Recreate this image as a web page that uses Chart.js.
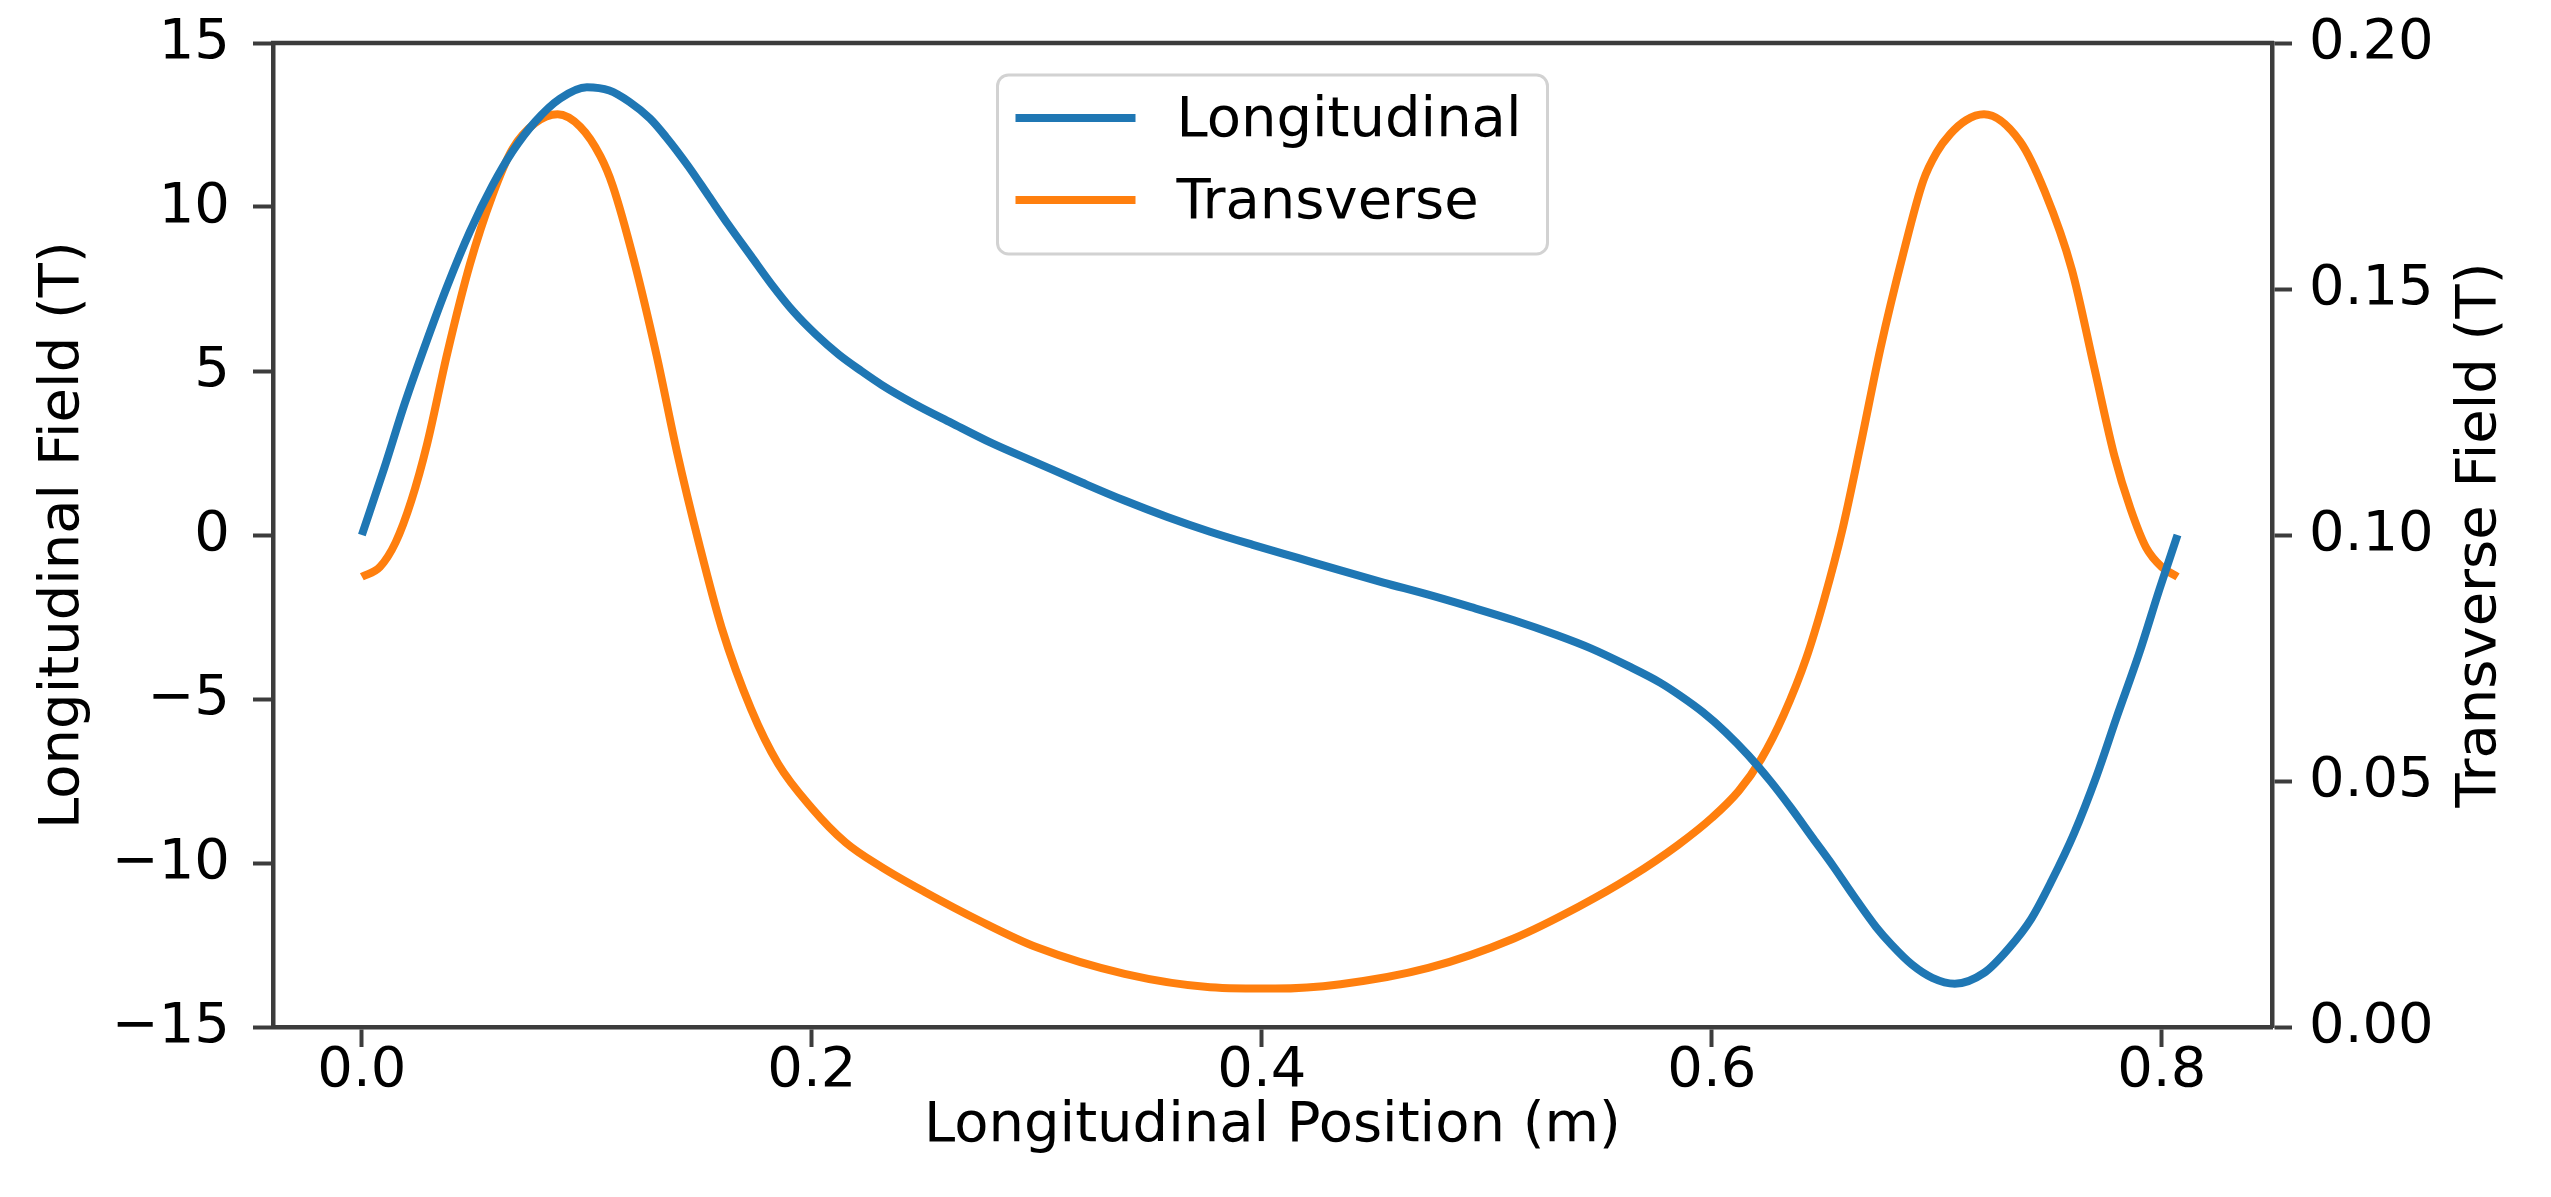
<!DOCTYPE html>
<html>
<head>
<meta charset="utf-8">
<script src="https://cdn.jsdelivr.net/npm/chart.js@4.4.1/dist/chart.umd.min.js"></script>
<style>
  html, body { margin: 0; padding: 0; background: #fff; overflow: hidden; }
  canvas { display: block; }
</style>
</head>
<body>
<canvas id="fieldChart" width="2551" height="1197"></canvas>
<script>
// values
const longPosition = [0.000, 0.010, 0.019, 0.029, 0.038, 0.048, 0.058, 0.067, 0.077, 0.088,
  0.100, 0.110, 0.119, 0.128, 0.135, 0.145, 0.154, 0.163, 0.173, 0.182,
  0.192, 0.202, 0.212, 0.222, 0.231, 0.245, 0.262, 0.280, 0.300, 0.320,
  0.339, 0.358, 0.377, 0.396, 0.416, 0.435, 0.454, 0.474, 0.493, 0.512,
  0.531, 0.546, 0.563, 0.577, 0.586, 0.596, 0.606, 0.616, 0.626, 0.635,
  0.645, 0.654, 0.663, 0.673, 0.680, 0.689, 0.698, 0.708, 0.721, 0.732,
  0.742, 0.751, 0.761, 0.771, 0.780, 0.790, 0.799, 0.807];
const longField = [0.0, 2.05, 4.0, 5.95, 7.6, 9.25, 10.65, 11.7, 12.6, 13.3,
  13.65, 13.55, 13.2, 12.7, 12.15, 11.25, 10.35, 9.45, 8.5, 7.65,
  6.8, 6.1, 5.5, 5.0, 4.58, 4.02, 3.42, 2.8, 2.2, 1.6,
  1.05, 0.55, 0.1, -0.3, -0.7, -1.08, -1.45, -1.82, -2.2, -2.6,
  -3.05, -3.45, -4.0, -4.5, -4.9, -5.4, -6.0, -6.7, -7.5, -8.3,
  -9.25, -10.1, -11.0, -11.95, -12.5, -13.1, -13.5, -13.68, -13.35, -12.6,
  -11.7, -10.55, -9.1, -7.35, -5.55, -3.6, -1.65, 0.0];

const transPosition = [0.000, 0.008, 0.015, 0.022, 0.029, 0.038, 0.048, 0.058, 0.067, 0.077,
  0.087, 0.097, 0.106, 0.1115, 0.121, 0.131, 0.140, 0.150, 0.160, 0.173,
  0.185, 0.200, 0.215, 0.231, 0.250, 0.275, 0.300, 0.339, 0.377, 0.406,
  0.435, 0.474, 0.512, 0.541, 0.564, 0.585, 0.600, 0.612, 0.622, 0.632,
  0.642, 0.650, 0.658, 0.666, 0.675, 0.685, 0.694, 0.700, 0.706, 0.713,
  0.721, 0.737, 0.748, 0.760, 0.770, 0.779, 0.786, 0.793, 0.800, 0.807];
const transField = [0.0915, 0.0935, 0.0985, 0.1070, 0.1185, 0.1370, 0.1550, 0.1690, 0.1785, 0.1837,
  0.1855, 0.1830, 0.1770, 0.1710, 0.1557, 0.1365, 0.1170, 0.0980, 0.0810, 0.0646,
  0.0535, 0.0445, 0.0375, 0.0325, 0.0275, 0.0215, 0.0162, 0.0108, 0.0081, 0.0078,
  0.0087, 0.0120, 0.0180, 0.0245, 0.0305, 0.0370, 0.0425, 0.0480, 0.0545, 0.0635,
  0.0750, 0.0870, 0.1010, 0.1180, 0.1380, 0.1570, 0.1720, 0.1778, 0.1815, 0.1843,
  0.1855, 0.1800, 0.1698, 0.1540, 0.1340, 0.1160, 0.1055, 0.0975, 0.0935, 0.0915];

const xTickValues = [0.0, 0.2, 0.4, 0.6, 0.8];
const leftTickValues = [-15, -10, -5, 0, 5, 10, 15];
const rightTickValues = [0.00, 0.05, 0.10, 0.15, 0.20];

const seriesLabels = ["Longitudinal", "Transverse"];
const seriesColors = ["#1f77b4", "#ff7f0e"];

const FONT = "'DejaVu Sans', 'Liberation Sans', sans-serif";
const AXIS_COLOR = "#3c3c3c";

Chart.defaults.font.family = FONT;
Chart.defaults.font.size = 56;
Chart.defaults.color = "#000";

const toPoints = (xs, ys) => xs.map((x, i) => ({ x: x, y: ys[i] }));

const axisGrid = {
  display: true,
  drawOnChartArea: false,
  drawTicks: true,
  tickLength: 20,
  tickWidth: 4,
  tickColor: AXIS_COLOR,
  color: AXIS_COLOR,
};
const axisBorder = { display: true, color: AXIS_COLOR, width: 4.5 };

// fixed box sizes so the plot area lands where the original one is
const fixBox = (size) => (scale) => {
  if (scale.isHorizontal()) scale.height = size; else scale.width = size;
  scale.paddingTop = 0;
  scale.paddingBottom = 0;
  scale.paddingLeft = 0;
  scale.paddingRight = 0;
};

// top spine, legend box and the right axis title (matplotlib reads it bottom-up)
const extrasPlugin = {
  id: "extras",
  afterDatasetsDraw(chart) {
    const { ctx, chartArea } = chart;
    ctx.save();
    ctx.strokeStyle = AXIS_COLOR;
    ctx.lineWidth = 4.5;
    ctx.beginPath();
    ctx.moveTo(chartArea.left - 2, chartArea.top);
    ctx.lineTo(chartArea.right + 2, chartArea.top);
    ctx.stroke();

    // legend
    ctx.font = "56px " + FONT;
    const labels = chart.data.datasets.map(d => d.label);
    const textW = Math.max(...labels.map(l => ctx.measureText(l).width));
    const w = 18 + 120 + 41 + textW + 26;
    const h = 179;
    const bx = (chartArea.left + chartArea.right) / 2 - w / 2;
    const by = chartArea.top + 32;
    ctx.beginPath();
    ctx.roundRect(bx, by, w, h, 11);
    ctx.fillStyle = "rgba(255,255,255,0.85)";
    ctx.fill();
    ctx.strokeStyle = "#d2d2d2";
    ctx.lineWidth = 3;
    ctx.stroke();
    chart.data.datasets.forEach((ds, i) => {
      const ly = by + 43 + i * 82;
      ctx.strokeStyle = ds.borderColor;
      ctx.lineWidth = 8;
      ctx.beginPath();
      ctx.moveTo(bx + 18, ly);
      ctx.lineTo(bx + 138, ly);
      ctx.stroke();
      ctx.fillStyle = "#000";
      ctx.textAlign = "left";
      ctx.textBaseline = "middle";
      ctx.fillText(ds.label, bx + 179, ly + 3);
    });

    // right axis title
    const r = chart.scales.y2;
    ctx.translate(r.right - 71, (chartArea.top + chartArea.bottom) / 2);
    ctx.rotate(-Math.PI / 2);
    ctx.fillStyle = "#000";
    ctx.textAlign = "center";
    ctx.textBaseline = "middle";
    ctx.fillText("Transverse Field (T)", 0, 0);
    ctx.restore();
  }
};

new Chart(document.getElementById("fieldChart"), {
  type: "line",
  data: {
    datasets: [
      {
        label: seriesLabels[0],
        data: toPoints(longPosition, longField),
        borderColor: seriesColors[0],
        backgroundColor: seriesColors[0],
        borderWidth: 8,
        pointRadius: 0,
        cubicInterpolationMode: "monotone",
        yAxisID: "y",
      },
      {
        label: seriesLabels[1],
        data: toPoints(transPosition, transField),
        borderColor: seriesColors[1],
        backgroundColor: seriesColors[1],
        borderWidth: 8,
        pointRadius: 0,
        cubicInterpolationMode: "monotone",
        yAxisID: "y2",
      },
    ],
  },
  options: {
    responsive: false,
    devicePixelRatio: 1,
    animation: false,
    layout: { padding: { top: 43, left: 0, right: 0, bottom: 0 } },
    plugins: {
      legend: { display: false },
      tooltip: { enabled: false },
    },
    scales: {
      x: {
        type: "linear",
        min: -0.0395,
        max: 0.8490,
        grid: axisGrid,
        border: axisBorder,
        afterBuildTicks: (scale) => { scale.ticks = xTickValues.map(v => ({ value: v })); },
        afterFit: fixBox(170),
        ticks: {
          padding: -9,
          maxRotation: 0,
          autoSkip: false,
          callback: (v) => Number(v).toFixed(1),
        },
        title: {
          display: true,
          text: "Longitudinal Position (m)",
          font: { size: 56 },
          padding: { top: 0, bottom: 37 },
        },
      },
      y: {
        type: "linear",
        position: "left",
        min: -15,
        max: 15,
        grid: axisGrid,
        border: axisBorder,
        afterBuildTicks: (scale) => { scale.ticks = leftTickValues.map(v => ({ value: v })); },
        afterFit: fixBox(273),
        ticks: {
          padding: 23,
          callback: (v) => String(v).replace("-", "\u2212"),
        },
        title: {
          display: true,
          text: "Longitudinal Field (T)",
          font: { size: 56 },
          padding: { top: 30, bottom: 0 },
        },
      },
      y2: {
        type: "linear",
        position: "right",
        min: 0,
        max: 0.2,
        grid: axisGrid,
        border: axisBorder,
        afterBuildTicks: (scale) => { scale.ticks = rightTickValues.map(v => ({ value: v })); },
        afterFit: fixBox(279),
        ticks: {
          padding: 17,
          callback: (v) => Number(v).toFixed(2),
        },
      },
    },
  },
  plugins: [extrasPlugin],
});
</script>
</body>
</html>
